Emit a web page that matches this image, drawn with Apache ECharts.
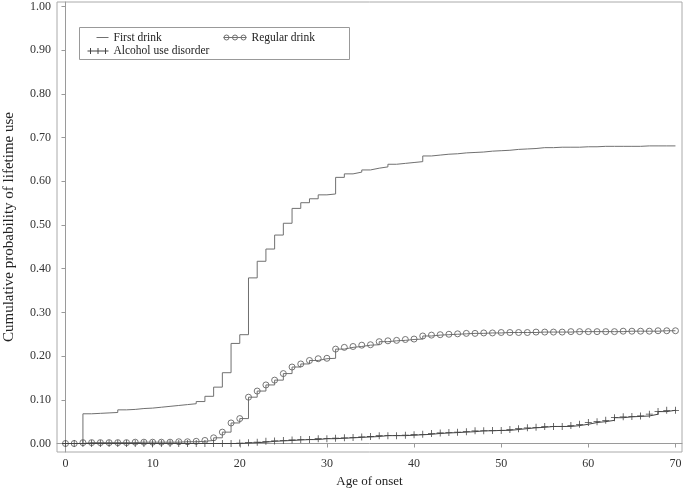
<!DOCTYPE html>
<html><head><meta charset="utf-8">
<script src="https://cdn.jsdelivr.net/npm/echarts@6/dist/echarts.min.js"></script>
<style>html,body{margin:0;padding:0;background:#fff}#c{width:685px;height:491px}</style>
</head><body><div id="c"></div>
<script>
const ages = [0,1,2,3,4,5,6,7,8,9,10,11,12,13,14,15,16,17,18,19,20,21,22,23,24,25,26,27,28,29,30,31,32,33,34,35,36,37,38,39,40,41,42,43,44,45,46,47,48,49,50,51,52,53,54,55,56,57,58,59,60,61,62,63,64,65,66,67,68,69,70];
const firstDrink = [0,0,0.068,0.069,0.070,0.071,0.077,0.078,0.080,0.081,0.083,0.085,0.087,0.089,0.091,0.096,0.108,0.129,0.162,0.229,0.249,0.379,0.417,0.445,0.477,0.504,0.538,0.551,0.560,0.569,0.571,0.609,0.617,0.621,0.626,0.630,0.633,0.639,0.641,0.643,0.645,0.658,0.660,0.662,0.663,0.665,0.666,0.667,0.669,0.670,0.671,0.673,0.674,0.675,0.677,0.677,0.678,0.678,0.678,0.679,0.679,0.680,0.680,0.680,0.680,0.680,0.681,0.681,0.681,0.681,0.682];
const regularDrink = [0,0,0.002,0.002,0.002,0.002,0.002,0.002,0.003,0.003,0.003,0.003,0.003,0.004,0.004,0.005,0.007,0.013,0.026,0.047,0.057,0.106,0.120,0.134,0.145,0.160,0.175,0.182,0.190,0.194,0.195,0.216,0.220,0.222,0.225,0.226,0.233,0.235,0.236,0.238,0.239,0.246,0.248,0.249,0.250,0.251,0.252,0.252,0.253,0.253,0.254,0.254,0.254,0.254,0.255,0.255,0.255,0.255,0.256,0.256,0.256,0.256,0.256,0.256,0.257,0.257,0.257,0.257,0.258,0.258,0.258];
const alcoholUseDisorder = [0,0,0,0,0,0,0,0,0,0,0,0,0,0,0,0,0,0,0,0,0.001,0.002,0.003,0.005,0.006,0.007,0.008,0.009,0.009,0.011,0.011,0.012,0.013,0.014,0.015,0.016,0.018,0.018,0.018,0.019,0.020,0.021,0.023,0.024,0.025,0.026,0.027,0.029,0.029,0.030,0.030,0.032,0.034,0.036,0.037,0.039,0.039,0.039,0.041,0.044,0.048,0.050,0.053,0.059,0.061,0.062,0.063,0.067,0.073,0.076,0.076];
const seriesNames = ['First drink','Regular drink','Alcohol use disorder'];
const xTicks = [0,10,20,30,40,50,60,70];
const yTicks = [0,0.1,0.2,0.3,0.4,0.5,0.6,0.7,0.8,0.9,1.0];
const xTitle = 'Age of onset';
const yTitle = 'Cumulative probability of lifetime use';

const pair = vals => ages.map((a,i)=>[a, vals[i]]);
const serif = 'Liberation Serif';
const axisGray = '#9a9a9a';
const lineGray = '#707070';

const chart = echarts.init(document.getElementById('c'), null, {renderer:'canvas'});
const legendBase = {
  orient:'horizontal', padding:0, itemHeight:6, selectedMode:false,
  textStyle:{fontFamily:serif, fontSize:11.5, color:'#222'}
};
chart.setOption({
  animation:false,
  backgroundColor:'#fff',
  grid:{left:57, right:3, top:2, bottom:39, show:true, borderColor:'#aaa', borderWidth:1, containLabel:false, outerBoundsMode:'none'},
  graphic:[{type:'rect', shape:{x:79.5, y:27.5, width:270, height:32}, style:{fill:'none', stroke:'#999', lineWidth:1}, silent:true}],
  legend:[
    Object.assign({}, legendBase, {left:94, top:31.5, itemWidth:12, data:[{name:seriesNames[0], icon:'path://M0,0M12,6M0,3H12', itemStyle:{color:'none', borderColor:lineGray, borderWidth:1}}]}),
    Object.assign({}, legendBase, {left:221, top:31.5, itemWidth:23, data:[{name:seriesNames[1], icon:'path://M0,0M23,6M0,3H23M5.5,3A2.5,2.5,0,1,1,0.5,3A2.5,2.5,0,1,1,5.5,3M14,3A2.5,2.5,0,1,1,9,3A2.5,2.5,0,1,1,14,3M22.5,3A2.5,2.5,0,1,1,17.5,3A2.5,2.5,0,1,1,22.5,3', itemStyle:{color:'none', borderColor:lineGray, borderWidth:1}}]}),
    Object.assign({}, legendBase, {left:85, top:45, itemWidth:21, data:[{name:seriesNames[2], icon:'path://M0,0M21,6M0,3H21M3,0V6M10.5,0V6M18,0V6', itemStyle:{color:'none', borderColor:'#444', borderWidth:1}}]})
  ],
  xAxis:{
    type:'value', min:-0.975, max:70.75,
    axisLine:{show:true, lineStyle:{color:axisGray, width:1}},
    axisTick:{show:true, customValues:xTicks, length:4, lineStyle:{color:axisGray}},
    axisLabel:{customValues:xTicks, fontFamily:serif, fontSize:12, color:'#333', margin:6},
    splitLine:{show:false},
    name:xTitle, nameLocation:'middle', nameGap:19,
    nameTextStyle:{fontFamily:serif, fontSize:13, color:'#222'}
  },
  yAxis:{
    type:'value', min:-0.01945, max:1.0103,
    axisLine:{show:true, lineStyle:{color:axisGray, width:1}},
    axisTick:{show:true, customValues:yTicks, length:4, lineStyle:{color:axisGray}},
    axisLabel:{customValues:yTicks, fontFamily:serif, fontSize:12, color:'#333', margin:6, formatter:v=>v.toFixed(2)},
    splitLine:{show:false},
    name:yTitle, nameLocation:'middle', nameGap:40, nameRotate:90,
    nameTextStyle:{fontFamily:serif, fontSize:15, color:'#222'}
  },
  series:[
    {name:seriesNames[0], type:'line', step:'end', data:pair(firstDrink), symbol:'none', lineStyle:{color:lineGray, width:1}, itemStyle:{color:lineGray}, z:2},
    {name:seriesNames[1], type:'line', step:'end', data:pair(regularDrink), symbol:'circle', symbolSize:6, showAllSymbol:true, lineStyle:{color:lineGray, width:1}, itemStyle:{color:'rgba(0,0,0,0)', borderColor:'#666', borderWidth:0.9}, z:3},
    {name:seriesNames[2], type:'line', step:'end', data:pair(alcoholUseDisorder), symbol:'path://M4,0H5V4H9V5H5V9H4V5H0V4H4Z', symbolSize:7, showAllSymbol:true, lineStyle:{color:'#444', width:1}, itemStyle:{color:'#444'}, z:4}
  ]
});
</script></body></html>
